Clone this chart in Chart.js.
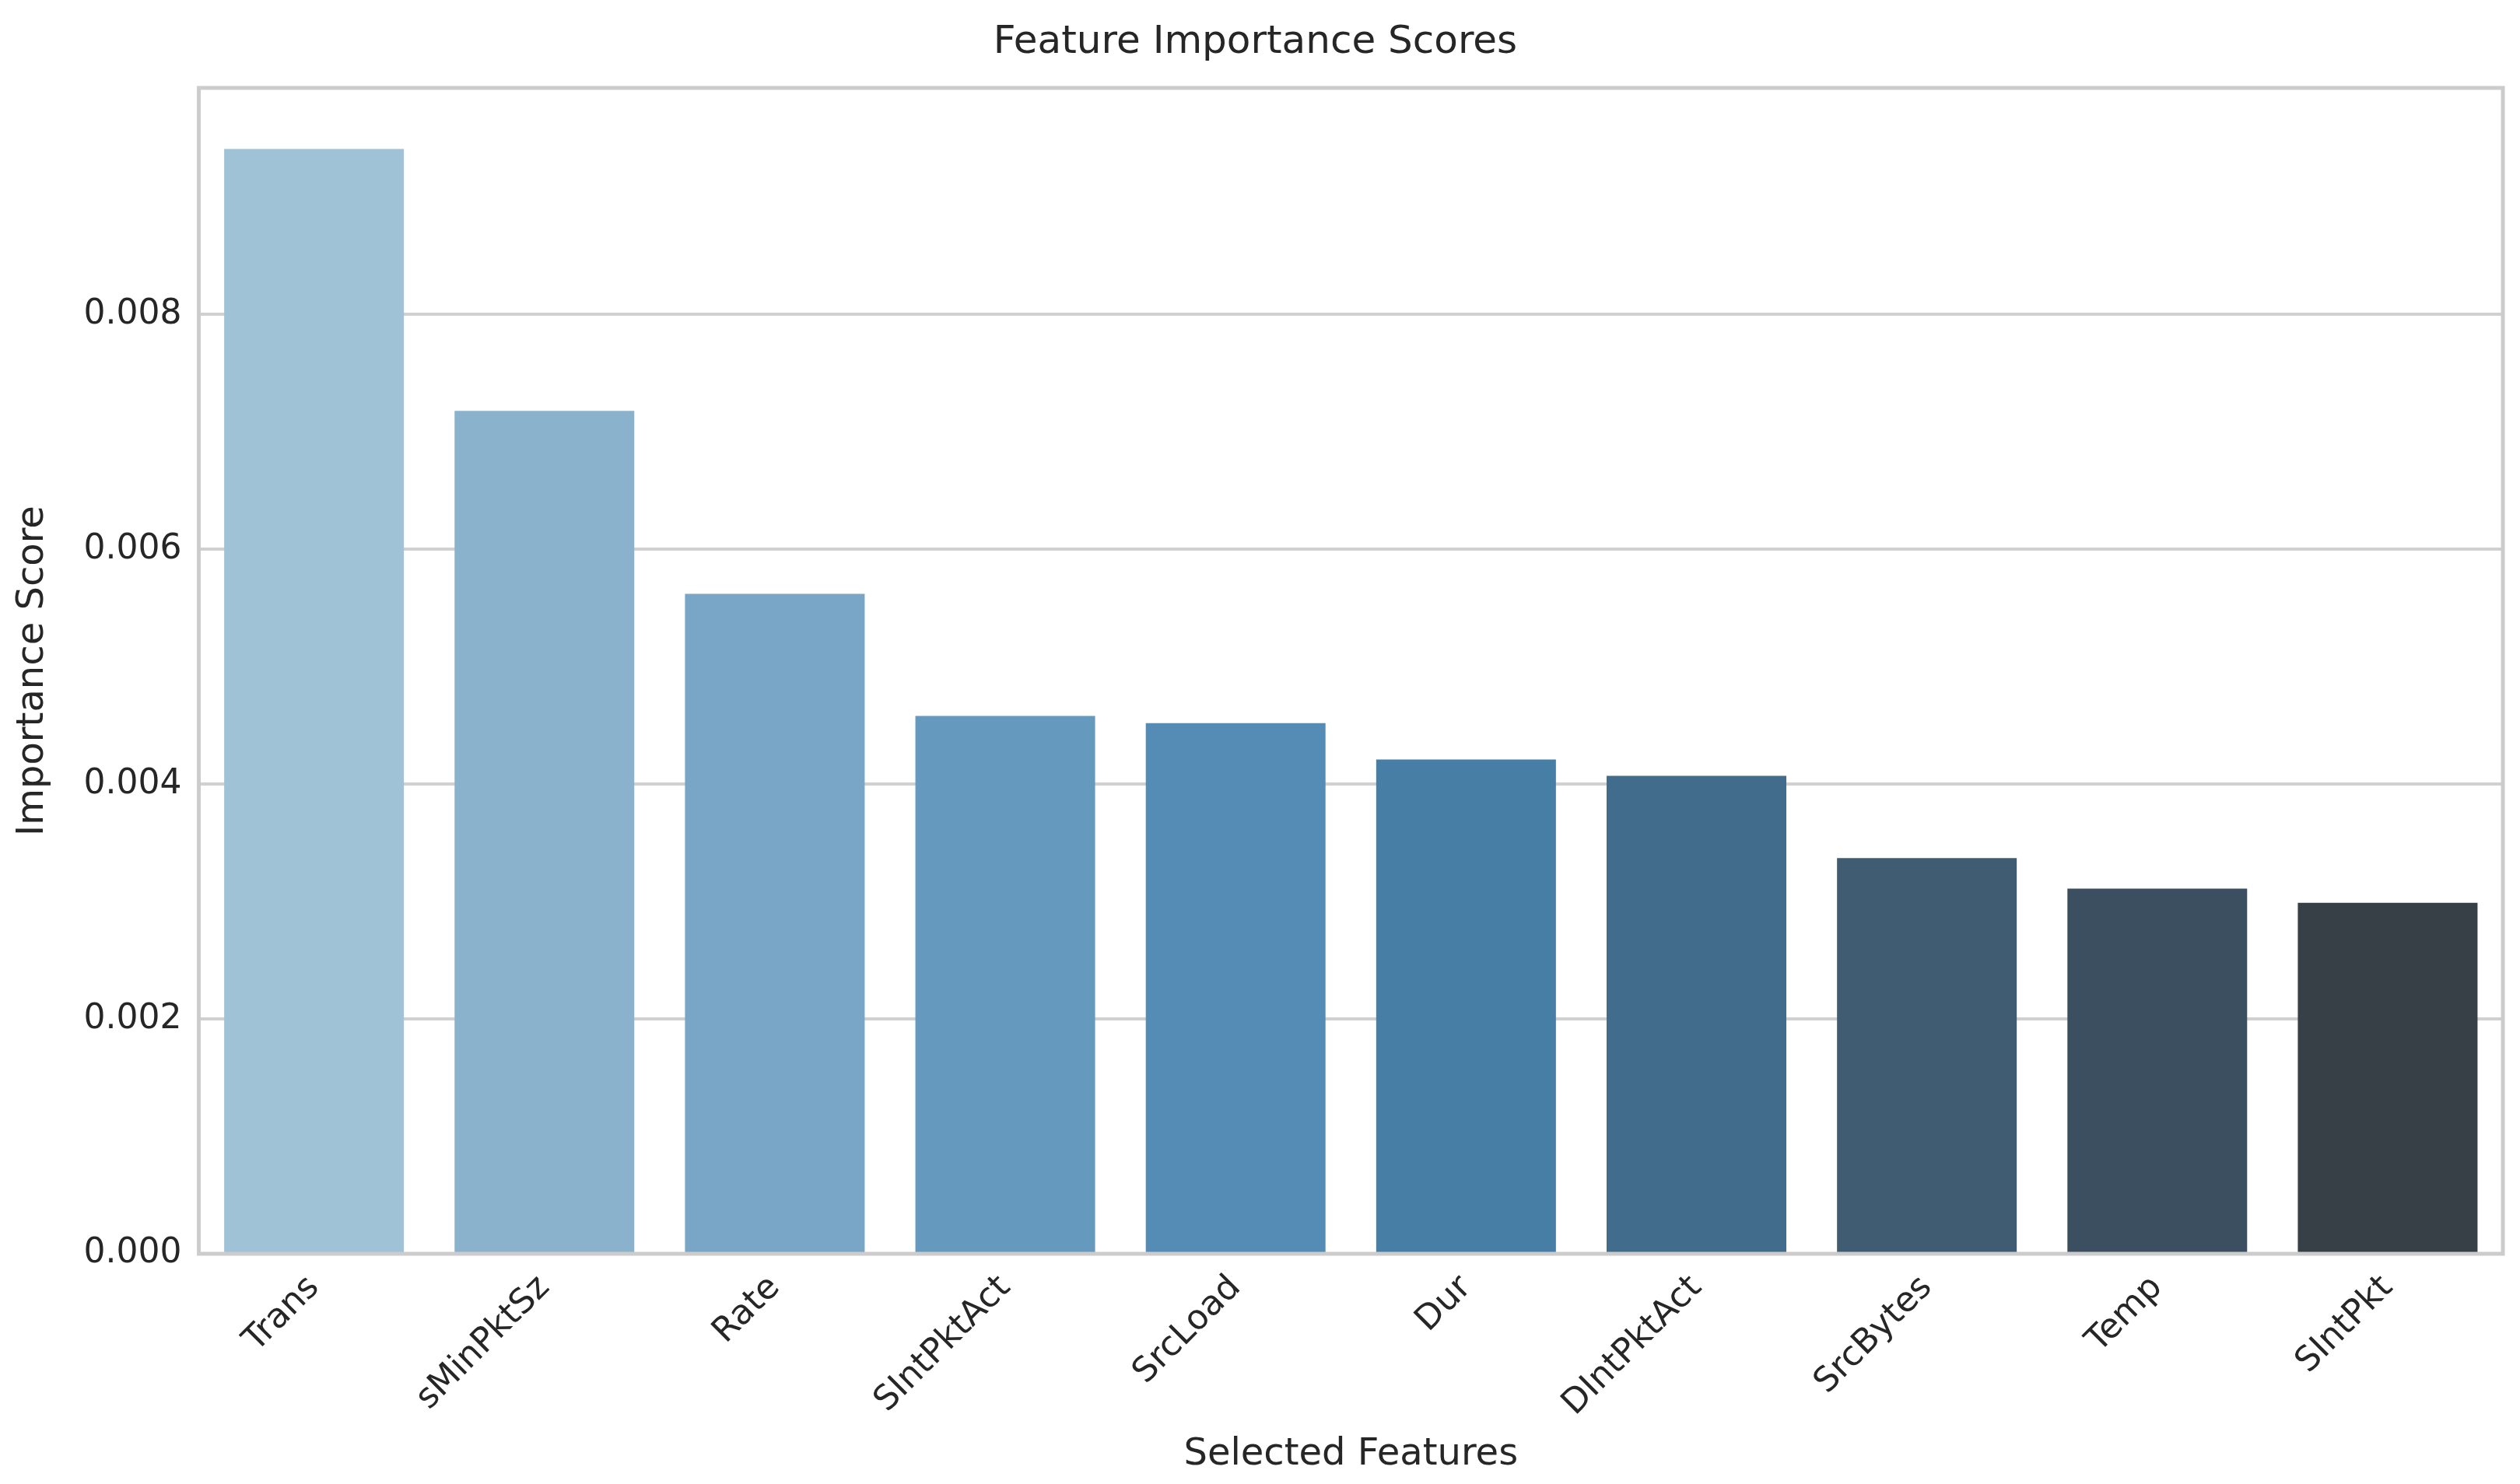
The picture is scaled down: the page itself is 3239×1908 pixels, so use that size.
<!DOCTYPE html>
<html><head><meta charset="utf-8">
<script src="https://cdn.jsdelivr.net/npm/chart.js@4"></script>
<style>html,body{margin:0;padding:0;background:#fff}#w{width:3239px;height:1908px}</style>
</head><body><div id="w"><canvas id="c"></canvas></div>
<script>
const categories = ["Trans","sMinPktSz","Rate","SIntPktAct","SrcLoad","Dur","DIntPktAct","SrcBytes","Temp","SIntPkt"];
const scores = [0.00941,0.00718,0.00562,0.00458,0.00452,0.00421,0.00407,0.00337,0.00311,0.00299];
const barColors = ["#9fc2d7","#8bb2cd","#79a6c6","#6699be","#548cb6","#477ea6","#426c8b","#3f5c73","#3b4f61","#373f47"];
const yTicks = [0,0.002,0.004,0.006,0.008];
const FONT = "'DejaVu Sans', Arial, sans-serif";
const frame = {id:'frame',afterDraw(ch){const a=ch.chartArea,x=ch.ctx;x.save();x.strokeStyle='#cccccc';x.lineWidth=5;x.strokeRect(a.left,a.top,a.right-a.left,a.bottom-a.top);x.restore();}};
new Chart(document.getElementById('c'),{
 type:'bar',
 data:{labels:categories,datasets:[{data:scores,backgroundColor:barColors,borderColor:'#ffffff',borderWidth:0,categoryPercentage:0.78,barPercentage:1}]},
 options:{responsive:true,maintainAspectRatio:false,animation:false,devicePixelRatio:1,
  layout:{padding:{left:10,right:22,top:10,bottom:5}},
  plugins:{legend:{display:false},tooltip:{enabled:false},
   title:{display:true,text:'Feature Importance Scores',color:'#262626',font:{family:FONT,size:50,weight:'normal'},padding:{top:15,bottom:28}}},
  scales:{
   x:{grid:{display:false},border:{display:false},
      ticks:{color:'#262626',font:{family:FONT,size:44},maxRotation:45,minRotation:45,padding:10},
      title:{display:true,text:'Selected Features',color:'#262626',font:{family:FONT,size:48},padding:{top:0}}},
   y:{min:0,max:0.00993,grid:{color:'#d0d0d0',lineWidth:4,drawTicks:false},border:{display:false},
      afterBuildTicks(s){s.ticks=yTicks.map(v=>({value:v}));},
      ticks:{color:'#262626',font:{family:FONT,size:44},padding:22,callback:v=>v.toFixed(3)},
      title:{display:true,text:'Importance Score',color:'#262626',font:{family:FONT,size:48},padding:{bottom:14}}}
  }},
 plugins:[frame]
});
</script></body></html>
